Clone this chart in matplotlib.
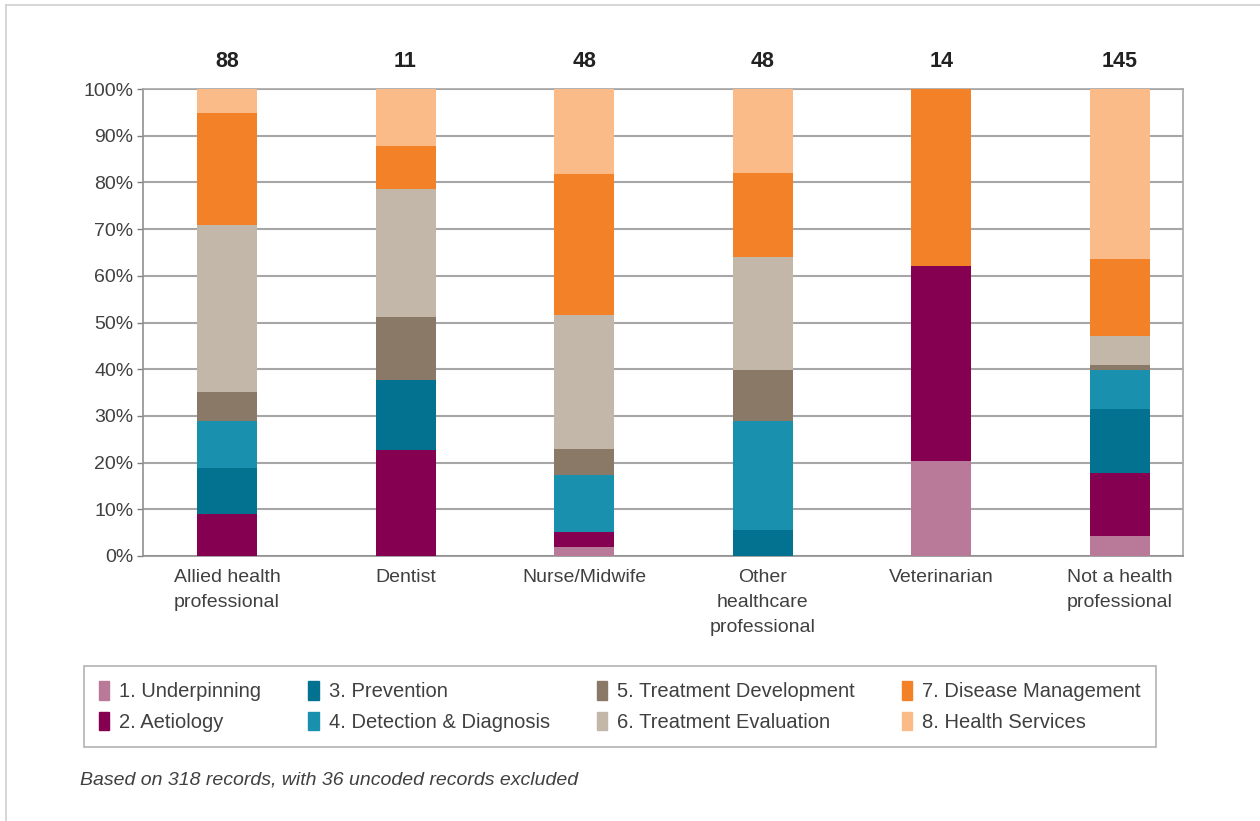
import numpy as np
import matplotlib
matplotlib.use('Agg')
import matplotlib.pyplot as plt
from matplotlib.lines import Line2D

# === Data (percent of records per group) ===
groups = ['Allied health\nprofessional', 'Dentist', 'Nurse/Midwife',
          'Other\nhealthcare\nprofessional', 'Veterinarian', 'Not a health\nprofessional']
counts = ['88', '11', '48', '48', '14', '145']

categories = ['1. Underpinning', '2. Aetiology', '3. Prevention', '4. Detection & Diagnosis',
              '5. Treatment Development', '6. Treatment Evaluation', '7. Disease Management',
              '8. Health Services']

underpinning = [0.0, 0.0, 1.9, 0.0, 20.3, 4.3]
aetiology = [8.9, 22.7, 3.2, 0.0, 41.9, 13.5]
prevention = [9.9, 15.0, 0.0, 5.6, 0.0, 13.6]
detection = [10.1, 0.0, 12.2, 23.3, 0.0, 8.5]
treat_dev = [6.2, 13.4, 5.6, 11.0, 0.0, 1.0]
treat_eval = [35.7, 27.4, 28.7, 24.2, 0.0, 6.3]
disease_mgmt = [24.0, 9.4, 30.3, 18.0, 37.8, 16.3]
health_serv = [5.2, 12.1, 18.1, 17.9, 0.0, 36.5]

series = [underpinning, aetiology, prevention, detection,
          treat_dev, treat_eval, disease_mgmt, health_serv]
colors = ['#B87A98', '#850050', '#037190', '#1890AE',
          '#8A7966', '#C3B7A9', '#F28127', '#FABB88']

# === Style ===
plt.rcParams['font.family'] = ['Liberation Sans', 'DejaVu Sans']
text_col = '#404040'
grid_col = '#A6A6A6'

fig = plt.figure(figsize=(12.6, 8.21), dpi=100)
ax = fig.add_axes([143 / 1260, 1 - 556 / 821, 1040 / 1260, 467 / 821])

x = np.arange(len(groups))
bottom = np.zeros(len(groups))
handles = []
for vals, col, lab in zip(series, colors, categories):
    v = np.array(vals)
    ax.bar(x, v, bottom=bottom, width=0.336, color=col, linewidth=0, zorder=3)
    bottom += v
    handles.append(plt.Rectangle((0, 0), 1, 1, color=col, label=lab))

ax.set_xlim(-0.47, 5.353)
ax.set_ylim(0, 100)
ax.set_yticks(np.arange(0, 101, 10))
ax.set_yticklabels([f'{t}%' for t in range(0, 101, 10)])
ax.yaxis.grid(True, color=grid_col, linewidth=1.5, zorder=0)
ax.set_xticks(x)
ax.set_xticklabels(groups, linespacing=1.62, va='top')
ax.tick_params(axis='y', length=4, width=1, color='#808080', pad=3,
               labelsize=14, labelcolor=text_col)
ax.tick_params(axis='x', length=0, pad=9, labelsize=14, labelcolor=text_col)
for s in ax.spines.values():
    s.set_color('#909090')
    s.set_linewidth(1.2)
ax.spines['top'].set_color(grid_col)
ax.spines['right'].set_color(grid_col)

# group sizes above each bar
for i, c in enumerate(counts):
    ax.annotate(c, xy=(i, 100), xytext=(0, 19.5), textcoords='offset points',
                ha='center', va='center', fontsize=15.5, fontweight='bold',
                color='#222222', annotation_clip=False)

# === Legend ===
leg = fig.legend(handles=handles, ncol=4, loc='center',
                 bbox_to_anchor=(84 / 1260, 1 - 746 / 821, 1072 / 1260, 79 / 821),
                 mode='expand', frameon=True, fancybox=False, fontsize=14.5,
                 handlelength=0.5, handleheight=1.05, handletextpad=0.5,
                 labelspacing=0.5, borderpad=0.75, borderaxespad=0)
leg.get_frame().set_edgecolor('#A0A0A0')
leg.get_frame().set_linewidth(1.2)
for t in leg.get_texts():
    t.set_color(text_col)

# footnote
fig.text(80 / 1260, 1 - 780 / 821, 'Based on 318 records, with 36 uncoded records excluded',
         fontsize=14, style='italic', color=text_col, va='center')

# page border
fig.add_artist(Line2D([6 / 1260, 6 / 1260], [0, 1 - 5 / 821], color='#D0D0D0', lw=1.2))
fig.add_artist(Line2D([6 / 1260, 1], [1 - 5 / 821, 1 - 5 / 821], color='#D0D0D0', lw=1.2))

fig.savefig('out.png', dpi=100)
